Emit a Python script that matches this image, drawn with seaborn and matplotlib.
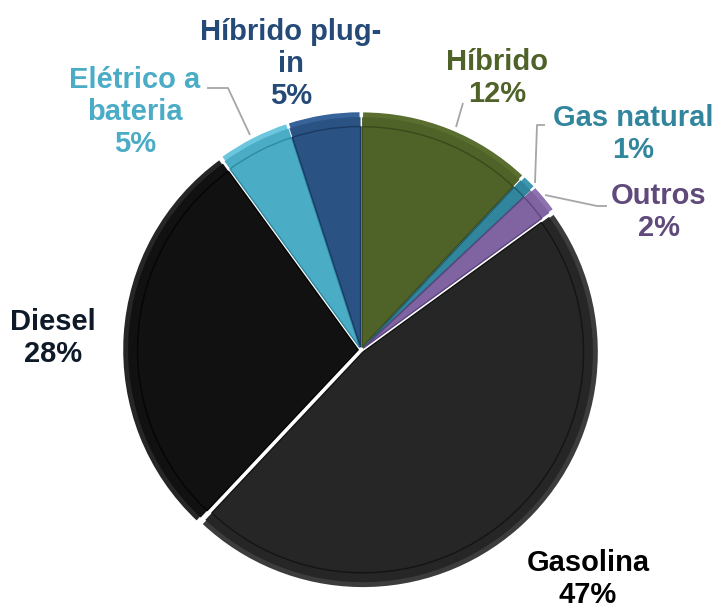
import matplotlib
matplotlib.use("Agg")
import matplotlib.pyplot as plt
import seaborn as sns

# ---- data ----
categories = ["Híbrido", "Gas natural", "Outros", "Gasolina", "Diesel",
              "Elétrico a bateria", "Híbrido plug-in"]
shares = [12, 1, 2, 47, 28, 5, 5]
label_texts = ["Híbrido\n12%", "Gas natural\n1%", "Outros\n2%", "Gasolina\n47%",
               "Diesel\n28%", "Elétrico a\nbateria\n5%", "Híbrido plug-\nin\n5%"]

# ---- style ----
sns.set_theme(style="white")
plt.rcParams['font.family'] = ['Liberation Sans', 'DejaVu Sans']

slice_colors = sns.color_palette(["#4F6228", "#31859C", "#8064A2", "#262626",
                                  "#111111", "#4BACC6", "#2A5283"])
rim_colors = ["#5A6E30", "#3A97AE", "#8E72B0", "#3C3C3C", "#262626", "#6CC6DE", "#35639A"]
inner_edge = ["#3A4A1C", "#1F5E6E", "#5C4680", "#141414", "#050505", "#2F8AA3", "#1A3A63"]
text_colors = ["#4F6228", "#31859C", "#604A7B", "#000000", "#0F1A28", "#4BACC6", "#254A78"]

W, H = 714, 604
CX, CY, R = 361, 350, 236

fig = plt.figure(figsize=(W / 100, H / 100), dpi=100)
ax = fig.add_axes([0, 0, 1, 1])

def px(x, y):
    return (x - CX) / R, (CY - y) / R

explode = [0.012] * len(shares)

# outer rim
ax.pie(shares, colors=rim_colors, startangle=90, counterclock=False,
       explode=explode, radius=1.0,
       wedgeprops=dict(linewidth=1.5, edgecolor="white"))
# face
wedges, _ = ax.pie(shares, colors=slice_colors, startangle=90, counterclock=False,
                   explode=explode, radius=0.975,
                   wedgeprops=dict(linewidth=0))
# inner bevel line
inner, _ = ax.pie(shares, colors=slice_colors, startangle=90, counterclock=False,
                  explode=explode, radius=0.935,
                  wedgeprops=dict(linewidth=1.0))
for w, ec in zip(inner, inner_edge):
    w.set_edgecolor(ec)

ax.set_xlim(-CX / R, (W - CX) / R)
ax.set_ylim(-(H - CY) / R, CY / R)
ax.set_aspect("equal")
ax.axis("off")

# labels (pixel positions of label centers)
label_pos = [(497, 78), (633, 134), (659, 212), (588, 579),
             (53, 338), (135, 112), (291, 64)]
for txt, (x, y), col in zip(label_texts, label_pos, text_colors):
    dx, dy = px(x, y)
    ax.text(dx, dy, txt, ha="center", va="center", fontsize=21,
            fontweight="bold", color=col, linespacing=1.2)

# leader lines
leaders = [
    [(456, 127), (463, 103)],
    [(535, 183), (537, 125), (545, 125)],
    [(545, 195), (597, 206), (607, 206)],
    [(250, 135), (228, 88), (207, 88)],
]
for pts in leaders:
    xs, ys = zip(*[px(a, b) for a, b in pts])
    ax.plot(xs, ys, color="#A6A6A6", linewidth=1.3, solid_capstyle="butt")

fig.savefig("out.png", dpi=100)
